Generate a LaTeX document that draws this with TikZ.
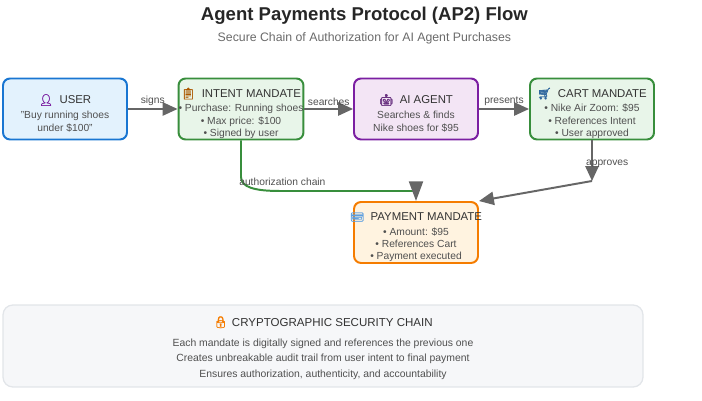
\documentclass[tikz,border=0pt]{standalone}
\usepackage{xcolor}
\usepackage{fontspec}
\setmainfont{Liberation Sans}
\newfontfamily\emojifont[FakeBold=1.5]{Noto Emoji}
\usetikzlibrary{positioning, arrows.meta}
\definecolor{FlowGray}{RGB}{102,102,102}
\definecolor{TextGray}{RGB}{80,80,80}
\definecolor{HeadGray}{RGB}{51,51,51}
\definecolor{UserBlue}{RGB}{25,118,210}
\definecolor{UserFill}{RGB}{227,242,253}
\definecolor{MandGreen}{RGB}{56,142,60}
\definecolor{MandFill}{RGB}{232,245,233}
\definecolor{AgentPurple}{RGB}{123,31,162}
\definecolor{AgentFill}{RGB}{243,229,245}
\definecolor{PayOrange}{RGB}{245,124,0}
\definecolor{PayFill}{RGB}{255,243,224}
\definecolor{NoteFill}{RGB}{246,247,249}
\definecolor{NoteEdge}{RGB}{226,229,233}
\newcommand{\bxhead}[3]{\makebox[3cm]{\rule{0pt}{12.7pt}\fontsize{8.1}{10}\selectfont
    \textcolor{#1}{\emojifont #2}\hspace{0.55em}\textcolor{HeadGray}{#3}}}

\begin{document}
\begin{tikzpicture}[
            bx/.style={rectangle, rounded corners=5pt, minimum width=3.1cm,
                       minimum height=1.525cm, align=center, line width=1.4pt,
                       inner sep=0pt, text=TextGray, font=\fontsize{7.3}{8.7}\selectfont},
            arr/.style={-{Triangle[length=10.6pt, width=9.4pt, color=FlowGray]},
                        draw=FlowGray, line width=1.4pt},
            tag/.style={font=\fontsize{7.3}{9}\selectfont, text=TextGray, inner sep=0pt}
          ]
          \useasboundingbox (0,0) rectangle (17.55,10.025);
          \node[font=\fontsize{13.2}{16}\selectfont\bfseries, text=black!85] (title) at (9.11, 9.62)
                {Agent Payments Protocol (AP2) Flow};
          \node[font=\fontsize{8.75}{11}\selectfont, text=TextGray!85] (subtitle) at (9.11, 9.07)
                {Secure Chain of Authorization for AI Agent Purchases};
          % top row
          \node[bx, draw=UserBlue, fill=UserFill] (user) at (1.625, 7.3)
                {\bxhead{AgentPurple}{^^^^^^01f464}{USER}\\[2pt]
                 "Buy running shoes\\under \$100"};
          \node[bx, draw=MandGreen, fill=MandFill] (intent) at (6.025, 7.3)
                {\bxhead{PayOrange!70!black}{^^^^^^01f4cb}{INTENT MANDATE}\\[1.5pt]
                 • Purchase: Running shoes\\• Max price: \$100\\• Signed by user};
          \node[bx, draw=AgentPurple, fill=AgentFill] (agent) at (10.4, 7.3)
                {\bxhead{AgentPurple!60!TextGray}{^^^^^^01f916}{AI AGENT}\\[2pt]
                 Searches \& finds\\Nike shoes for \$95};
          \node[bx, draw=MandGreen, fill=MandFill] (cart) at (14.8, 7.3)
                {\bxhead{UserBlue!60!TextGray}{^^^^^^01f6d2}{CART MANDATE}\\[1.5pt]
                 • Nike Air Zoom: \$95\\• References Intent\\• User approved};
          \node[bx, draw=PayOrange, fill=PayFill] (pay) at (10.4, 4.2125)
                {\bxhead{UserBlue!70!white}{^^^^^^01f4b3}{PAYMENT MANDATE}\\[1.5pt]
                 • Amount: \$95\\• References Cart\\• Payment executed};
          % bends
          \coordinate (bend) at (14.8, 5.5);
          \coordinate (corner) at (10.4, 5.25);
          % connectors
          \draw[arr] (user) -- (intent) node[tag, midway, above=1.5pt] (signs) {signs};
          \draw[arr] (intent) -- (agent) node[tag, midway, above=1.5pt] (searches) {searches};
          \draw[arr] (agent) -- (cart) node[tag, midway, above=1.5pt] (presents) {presents};
          \draw[arr] (cart) -- (bend);
          \draw[arr] (bend) -- (pay.north east);
          \node[tag] (approves) at (15.18, 5.94) {approves};
          \draw[draw=MandGreen, line width=1.4pt] (intent.south) -- (6.025, 5.6)
                .. controls (6.025, 5.35) and (6.35, 5.25) .. (7.0, 5.25) -- (corner);
          \draw[arr, draw=MandGreen, -{Triangle[length=14pt, width=10pt, color=FlowGray]}]
                (corner) -- (pay.north);
          \node[tag] (chain) at (7.06, 5.48) {authorization chain};
          % security note
          \node[rectangle, rounded corners=7pt, draw=NoteEdge, fill=NoteFill, line width=0.9pt,
                minimum width=16cm, minimum height=2.05cm] (note) at (8.075, 1.375) {};
          \node[font=\fontsize{8.2}{10}\selectfont, text=HeadGray] (notehead) at (8.075, 1.97)
                {\textcolor{PayOrange}{\emojifont ^^^^^^01f512}\hspace{0.35em}CRYPTOGRAPHIC SECURITY CHAIN};
          \node[font=\fontsize{7.4}{10.7}\selectfont, text=TextGray, align=center,
                below=1pt of notehead] (notebody)
                {Each mandate is digitally signed and references the previous one\\
                 Creates unbreakable audit trail from user intent to final payment\\
                 Ensures authorization, authenticity, and accountability};
        \end{tikzpicture}
\end{document}
